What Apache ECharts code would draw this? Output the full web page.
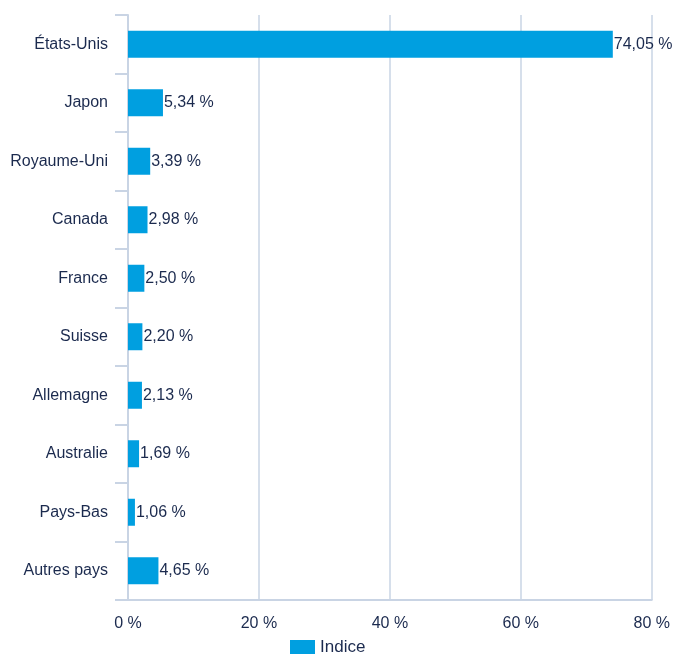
<!DOCTYPE html>
<html><head><meta charset="utf-8">
<script src="https://cdn.jsdelivr.net/npm/echarts@6/dist/echarts.min.js"></script>
<style>html,body{margin:0;padding:0;background:#fff}#c{width:673px;height:654px}</style>
</head><body><div id="c"></div>
<script>
const categories = ["États-Unis","Japon","Royaume-Uni","Canada","France","Suisse","Allemagne","Australie","Pays-Bas","Autres pays"];
const values = [74.05,5.34,3.39,2.98,2.50,2.20,2.13,1.69,1.06,4.65];
const seriesName = "Indice";
const xTicks = [0,20,40,60,80];

const text = "#1b2a4e";
const axisCol = "#c9d4e4";
const ff = "Liberation Sans, Arial, sans-serif";
const fmt = v => v.toFixed(2).replace(".", ",") + " %";
const chart = echarts.init(document.getElementById("c"));
chart.setOption({
  animation:false,
  textStyle:{fontFamily:ff},
  grid:{left:128,right:21,top:15,bottom:54,containLabel:false},
  legend:{top:639,left:290,padding:0,itemWidth:25,itemHeight:15,itemGap:7,icon:'rect',
    data:[seriesName],textStyle:{color:text,fontSize:17,fontFamily:ff}},
  xAxis:{type:'value',min:xTicks[0],max:xTicks[xTicks.length-1],interval:20,
    axisLine:{show:true,lineStyle:{color:axisCol,width:2}},
    axisTick:{show:false},
    axisLabel:{color:text,fontSize:16,margin:16,fontFamily:ff,formatter:v=>v+" %"},
    splitLine:{show:true,lineStyle:{color:axisCol,width:1.5}}},
  yAxis:{type:'category',data:categories,inverse:true,
    axisLine:{show:true,lineStyle:{color:axisCol,width:2}},
    axisTick:{show:true,length:13,lineStyle:{color:axisCol,width:2}},
    axisLabel:{color:text,fontSize:16,margin:20,fontFamily:ff}},
  series:[{name:seriesName,type:'bar',data:values,barWidth:27,
    itemStyle:{color:"#009fe0"},
    label:{show:true,position:'right',distance:1,color:text,fontSize:16,fontFamily:ff,formatter:p=>fmt(p.value)}}]
});
</script></body></html>
